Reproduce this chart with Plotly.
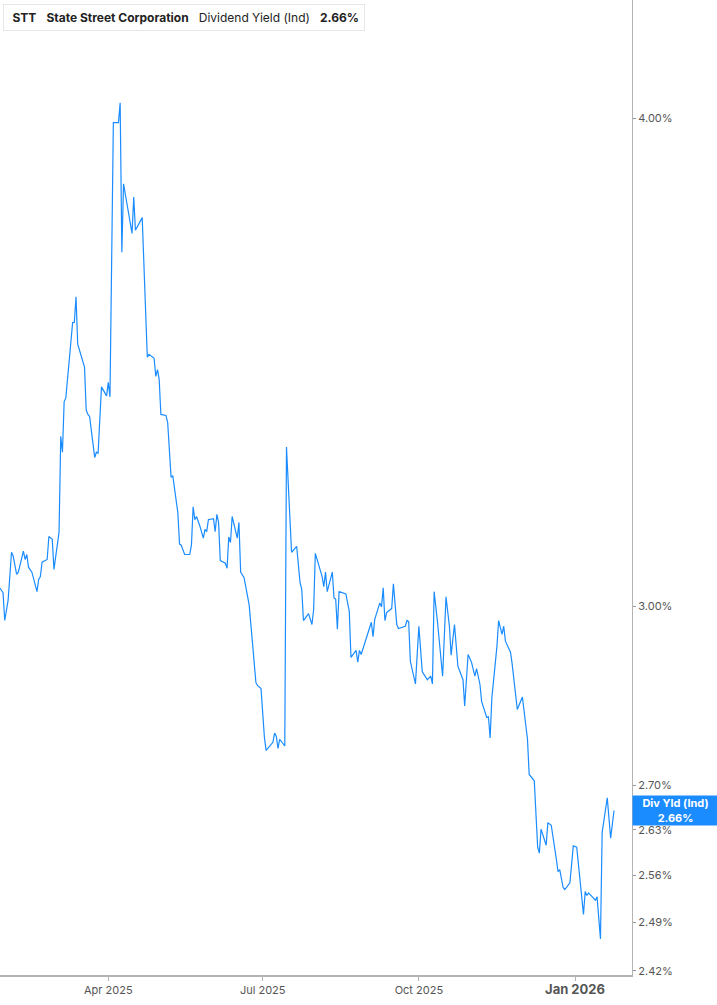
import math
import plotly.graph_objects as go

# STT dividend yield (indicated)
dates = [
    "2025-01-27", "2025-01-29", "2025-01-30", "2025-02-01", "2025-02-03", "2025-02-04",
    "2025-02-06", "2025-02-07", "2025-02-10", "2025-02-11", "2025-02-12", "2025-02-13",
    "2025-02-15", "2025-02-18", "2025-02-19", "2025-02-20", "2025-02-21", "2025-02-24",
    "2025-02-25", "2025-02-27", "2025-02-28", "2025-03-03", "2025-03-04", "2025-03-05",
    "2025-03-06", "2025-03-07", "2025-03-11", "2025-03-12", "2025-03-13", "2025-03-14",
    "2025-03-18", "2025-03-19", "2025-03-20", "2025-03-21", "2025-03-24", "2025-03-25",
    "2025-03-26", "2025-03-28", "2025-03-31", "2025-04-01", "2025-04-02", "2025-04-04",
    "2025-04-07", "2025-04-08", "2025-04-09", "2025-04-10", "2025-04-15", "2025-04-16",
    "2025-04-17", "2025-04-21", "2025-04-24", "2025-04-25", "2025-04-28", "2025-04-29",
    "2025-04-30", "2025-05-01", "2025-05-02", "2025-05-05", "2025-05-06", "2025-05-08",
    "2025-05-09", "2025-05-12", "2025-05-13", "2025-05-14", "2025-05-16", "2025-05-19",
    "2025-05-20", "2025-05-21", "2025-05-22", "2025-05-23", "2025-05-25", "2025-05-27",
    "2025-05-28", "2025-05-29", "2025-05-30", "2025-06-02", "2025-06-03", "2025-06-04",
    "2025-06-05", "2025-06-06", "2025-06-09", "2025-06-10", "2025-06-11", "2025-06-12",
    "2025-06-13", "2025-06-16", "2025-06-17", "2025-06-18", "2025-06-20", "2025-06-23",
    "2025-06-27", "2025-06-28", "2025-06-30", "2025-07-02", "2025-07-03", "2025-07-07",
    "2025-07-08", "2025-07-09", "2025-07-10", "2025-07-11", "2025-07-14", "2025-07-15",
    "2025-07-18", "2025-07-21", "2025-07-23", "2025-07-24", "2025-07-25", "2025-07-28",
    "2025-07-30", "2025-07-31", "2025-08-01", "2025-08-04", "2025-08-05", "2025-08-06",
    "2025-08-07", "2025-08-08", "2025-08-11", "2025-08-12", "2025-08-13", "2025-08-14",
    "2025-08-15", "2025-08-19", "2025-08-21", "2025-08-22", "2025-08-25", "2025-08-26",
    "2025-08-27", "2025-08-28", "2025-08-31", "2025-09-03", "2025-09-04", "2025-09-05",
    "2025-09-08", "2025-09-09", "2025-09-10", "2025-09-11", "2025-09-12", "2025-09-15",
    "2025-09-16", "2025-09-18", "2025-09-19", "2025-09-23", "2025-09-24", "2025-09-25",
    "2025-09-26", "2025-09-29", "2025-10-01", "2025-10-03", "2025-10-04", "2025-10-06",
    "2025-10-08", "2025-10-09", "2025-10-10", "2025-10-12", "2025-10-15", "2025-10-17",
    "2025-10-19", "2025-10-20", "2025-10-22", "2025-10-24", "2025-10-27", "2025-10-28",
    "2025-10-30", "2025-11-01", "2025-11-03", "2025-11-04", "2025-11-06", "2025-11-07",
    "2025-11-10", "2025-11-11", "2025-11-12", "2025-11-13", "2025-11-16", "2025-11-17",
    "2025-11-19", "2025-11-20", "2025-11-21", "2025-11-24", "2025-11-25", "2025-11-27",
    "2025-11-28", "2025-12-01", "2025-12-02", "2025-12-04", "2025-12-05", "2025-12-08",
    "2025-12-10", "2025-12-11", "2025-12-12", "2025-12-15", "2025-12-16", "2025-12-18",
    "2025-12-21", "2025-12-22", "2025-12-23", "2025-12-25", "2025-12-26", "2025-12-29",
    "2025-12-31", "2026-01-02", "2026-01-06", "2026-01-07", "2026-01-08", "2026-01-09",
    "2026-01-13", "2026-01-14", "2026-01-16", "2026-01-17", "2026-01-20", "2026-01-22",
    "2026-01-24",
]

div_yield = [
    3.033, 3.024, 2.975, 3.011, 3.097, 3.090,
    3.057, 3.061, 3.099, 3.084, 3.093, 3.070,
    3.061, 3.026, 3.048, 3.053, 3.079, 3.084,
    3.126, 3.121, 3.066, 3.134, 3.316, 3.285,
    3.384, 3.392, 3.546, 3.546, 3.600, 3.501,
    3.454, 3.368, 3.359, 3.355, 3.275, 3.285,
    3.283, 3.414, 3.396, 3.423, 3.394, 3.989,
    3.989, 4.036, 3.696, 3.848, 3.737, 3.818,
    3.744, 3.772, 3.474, 3.480, 3.472, 3.435,
    3.449, 3.429, 3.359, 3.357, 3.343, 3.237,
    3.240, 3.170, 3.112, 3.110, 3.093, 3.093,
    3.110, 3.181, 3.157, 3.163, 3.145, 3.123,
    3.139, 3.135, 3.157, 3.159, 3.135, 3.167,
    3.152, 3.082, 3.077, 3.068, 3.125, 3.115,
    3.163, 3.123, 3.152, 3.061, 3.051, 3.003,
    2.868, 2.863, 2.858, 2.777, 2.756, 2.769,
    2.784, 2.779, 2.759, 2.774, 2.763, 3.295,
    3.097, 3.108, 3.042, 3.030, 2.975, 2.987,
    2.968, 2.994, 3.095, 3.066, 3.053, 3.035,
    3.061, 3.026, 3.061, 3.015, 3.013, 2.960,
    3.026, 3.022, 2.991, 2.911, 2.923, 2.903,
    2.923, 2.916, 2.946, 2.972, 2.947, 2.977,
    3.006, 2.999, 3.033, 2.975, 2.989, 2.996,
    3.040, 2.968, 2.961, 2.965, 2.975, 2.973,
    2.904, 2.866, 2.965, 2.887, 2.882, 2.873,
    2.879, 2.866, 3.026, 2.972, 2.879, 3.017,
    2.965, 2.915, 2.968, 2.896, 2.873, 2.829,
    2.916, 2.903, 2.879, 2.892, 2.865, 2.836,
    2.810, 2.811, 2.776, 2.842, 2.930, 2.975,
    2.951, 2.965, 2.939, 2.920, 2.899, 2.853,
    2.823, 2.844, 2.818, 2.774, 2.717, 2.707,
    2.603, 2.594, 2.631, 2.606, 2.641, 2.637,
    2.585, 2.566, 2.569, 2.542, 2.539, 2.549,
    2.605, 2.603, 2.502, 2.536, 2.530, 2.534,
    2.523, 2.528, 2.466, 2.626, 2.680, 2.617,
    2.660,
]

y_ticks = [2.42, 2.49, 2.56, 2.63, 2.70, 3.00, 4.00]
y_tick_text = ["2.42%", "2.49%", "2.56%", "2.63%", "2.70%", "3.00%", "4.00%"]
x_ticks = ["2025-04-01", "2025-07-01", "2025-10-01", "2026-01-01"]
x_tick_text = ["Apr 2025", "Jul 2025", "Oct 2025",
               "<span style='font-size:13px'><b>Jan 2026</b></span>"]

last_value = div_yield[-1]
LINE = "#1a8cff"
FONT = "Inter, Roboto, sans-serif"

fig = go.Figure()
fig.add_trace(go.Scatter(
    x=dates, y=div_yield, mode="lines",
    line=dict(color=LINE, width=1.2),
    hoverinfo="skip", showlegend=False,
))

fig.update_layout(
    width=717, height=1005,
    margin=dict(l=0, r=85, t=0, b=30),
    paper_bgcolor="white", plot_bgcolor="white",
    font=dict(family=FONT, size=11, color="#555"),
    showlegend=False,
)

fig.update_xaxes(
    range=["2025-01-27 05:00", "2026-02-03 14:00"],
    tickmode="array", tickvals=x_ticks, ticktext=x_tick_text,
    showgrid=False, zeroline=False,
    showline=True, linecolor="#b3b3b3", linewidth=1.5,
    ticks="outside", ticklen=4, tickcolor="#b3b3b3",
    tickfont=dict(family=FONT, size=11, color="#555"),
)

fig.update_yaxes(
    type="log", side="right",
    range=[0.38279, 0.63225],
    tickmode="array", tickvals=y_ticks, ticktext=y_tick_text,
    showgrid=False, zeroline=False,
    showline=True, linecolor="#b3b3b3", linewidth=1.2,
    ticks="outside", ticklen=3, tickcolor="#999",
    tickfont=dict(family=FONT, size=11, color="#555"),
)

# last value tag on the right axis
fig.add_annotation(
    xref="paper", x=1, xanchor="left",
    yref="y", y=math.log10(last_value), yanchor="middle",
    text="<b>Div Yld (Ind)</b><br><b>%.2f%%</b>" % last_value,
    showarrow=False, align="center",
    bgcolor=LINE, font=dict(family=FONT, size=11, color="white"),
    width=81, height=25, borderpad=2,
)

# header legend box
fig.add_annotation(
    xref="paper", yref="paper", x=3 / 632, y=1 - 4 / 975,
    xanchor="left", yanchor="top",
    text=" <b>STT</b>   <b>State Street Corporation</b>   Dividend Yield (Ind)   <b>%.2f%%</b>" % last_value,
    showarrow=False, align="left",
    font=dict(family=FONT, size=12, color="#222"),
    bgcolor="white", bordercolor="#e6e6e6", borderwidth=1, borderpad=5,
)
fig.add_shape(
    type="rect", xref="paper", yref="paper",
    x0=3 / 632, x1=6 / 632, y0=1 - 31 / 975, y1=1 - 4 / 975,
    fillcolor=LINE, line=dict(width=0),
)

fig.write_html("out.html", config={"displayModeBar": False},
               post_script="document.body.style.margin='0';")
